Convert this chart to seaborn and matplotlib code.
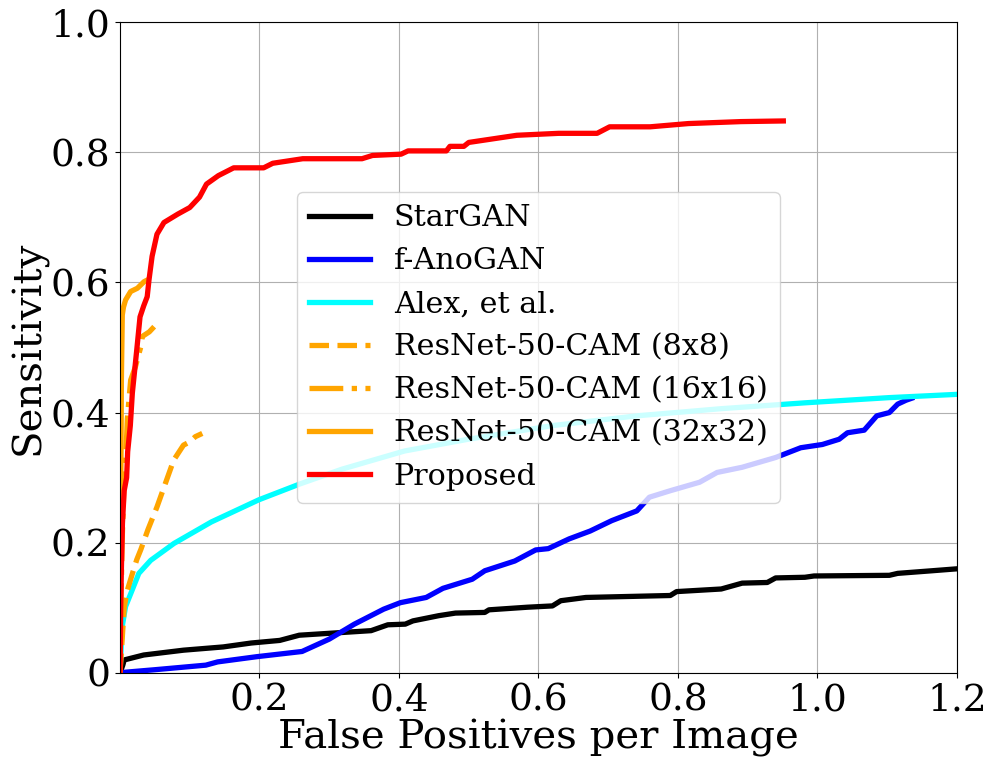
import numpy as np
import pandas as pd
import seaborn as sns
import matplotlib.pyplot as plt

plt.switch_backend('agg')

# FROC curves (false positives per image, sensitivity)
stargan_x = [0, 0.004, 0.006, 0.034, 0.091, 0.148, 0.188, 0.229, 0.257, 0.36, 0.384, 0.409, 0.42,
             0.457, 0.481, 0.523, 0.529, 0.584, 0.62, 0.632, 0.668, 0.789, 0.798, 0.862, 0.892,
             0.928, 0.94, 0.982, 0.995, 1.103, 1.115, 1.164, 1.2]
stargan_y = [0, 0.012, 0.02, 0.0276, 0.035, 0.040, 0.046, 0.05, 0.058, 0.065, 0.074, 0.075, 0.08,
             0.088, 0.092, 0.093, 0.097, 0.101, 0.103, 0.111, 0.116, 0.119, 0.125, 0.129, 0.138,
             0.139, 0.146, 0.147, 0.149, 0.150, 0.153, 0.157, 0.16]

fanogan_x = [0, 0.006, 0.05, 0.123, 0.14, 0.196, 0.261, 0.3, 0.336, 0.378, 0.402, 0.439, 0.463,
             0.505, 0.523, 0.566, 0.596, 0.614, 0.644, 0.674, 0.705, 0.741, 0.759, 0.789, 0.831,
             0.856, 0.892, 0.94, 0.976, 1.007, 1.031, 1.043, 1.067, 1.085, 1.103, 1.115, 1.127, 1.135]
fanogan_y = [0, 0.001, 0.005, 0.012, 0.017, 0.025, 0.033, 0.052, 0.075, 0.098, 0.108, 0.116, 0.13,
             0.144, 0.157, 0.172, 0.189, 0.191, 0.206, 0.218, 0.234, 0.249, 0.27, 0.28, 0.293,
             0.308, 0.316, 0.331, 0.346, 0.351, 0.359, 0.369, 0.373, 0.395, 0.40, 0.413, 0.419, 0.422]

alex_x = [0, 0.003, 0.008, 0.0177, 0.027, 0.044, 0.0774, 0.131, 0.199, 0.257, 0.318, 0.408,
          0.499, 0.62, 0.741, 0.862, 0.982, 1.103, 1.2]
alex_y = [0, 0.07, 0.102, 0.128, 0.153, 0.173, 0.199, 0.232, 0.266, 0.29, 0.313, 0.341,
          0.359, 0.38, 0.395, 0.406, 0.415, 0.423, 0.428]

cam8_x = [0, 0.003, 0.006, 0.01, 0.017, 0.024, 0.03, 0.04, 0.053, 0.058, 0.068, 0.077, 0.091,
          0.1, 0.108, 0.118]
cam8_y = [0, 0.05, 0.10, 0.125, 0.15, 0.174, 0.19, 0.22, 0.255, 0.27, 0.30, 0.327, 0.35,
          0.355, 0.363, 0.368]

cam16_x = [0, 0.001, 0.003, 0.006, 0.0096, 0.0105, 0.0153, 0.022, 0.0296, 0.032, 0.042, 0.049]
cam16_y = [0, 0.08, 0.2, 0.3, 0.365, 0.39, 0.45, 0.47, 0.50, 0.517, 0.524, 0.532]

cam32_x = [0, 0.001, 0.002, 0.0033, 0.005, 0.008, 0.0153, 0.0249, 0.0344, 0.038]
cam32_y = [0, 0.25, 0.45, 0.55, 0.562, 0.573, 0.586, 0.591, 0.601, 0.603]

proposed_x = [0, 0.001, 0.002, 0.0035, 0.006, 0.0095, 0.011, 0.0148, 0.0177, 0.024, 0.0287,
              0.034, 0.039, 0.0416, 0.046, 0.053, 0.063, 0.083, 0.1, 0.114, 0.124, 0.141, 0.163,
              0.206, 0.219, 0.262, 0.347, 0.362, 0.403, 0.413, 0.468, 0.473, 0.493, 0.5, 0.569,
              0.629, 0.684, 0.702, 0.76, 0.815, 0.89, 0.951]
proposed_y = [0, 0.10, 0.16, 0.23, 0.28, 0.30, 0.34, 0.38, 0.43, 0.496, 0.547,
              0.564, 0.578, 0.604, 0.64, 0.674, 0.692, 0.705, 0.715, 0.731, 0.751, 0.764, 0.776,
              0.776, 0.783, 0.79, 0.79, 0.795, 0.797, 0.802, 0.802, 0.809, 0.809, 0.815, 0.826,
              0.829, 0.829, 0.839, 0.839, 0.844, 0.847, 0.848]

x_ticks = [0.2, 0.4, 0.6, 0.8, 1.0, 1.2]
y_ticks = [0, 0.2, 0.4, 0.6, 0.8, 1.0]
y_tick_labels = ['0', '0.2', '0.4', '0.6', '0.8', '1.0']

curves = [
    ('StarGAN', stargan_x, stargan_y, 'black', '-'),
    ('f-AnoGAN', fanogan_x, fanogan_y, 'blue', '-'),
    ('Alex, et al.', alex_x, alex_y, 'cyan', '-'),
    ('ResNet-50-CAM (8x8)', cam8_x, cam8_y, 'orange', '--'),
    ('ResNet-50-CAM (16x16)', cam16_x, cam16_y, 'orange', '-.'),
    ('ResNet-50-CAM (32x32)', cam32_x, cam32_y, 'orange', '-'),
    ('Proposed', proposed_x, proposed_y, 'red', '-'),
]

plt.rcParams['font.family'] = 'DejaVu Serif'

fig, ax = plt.subplots(figsize=(9.95, 7.67), dpi=100)
fig.subplots_adjust(left=0.1206, right=0.9618, bottom=0.1226, top=0.9713)

for label, xs, ys, color, ls in curves:
    df = pd.DataFrame({'fpi': xs, 'sens': ys})
    sns.lineplot(data=df, x='fpi', y='sens', ax=ax, color=color, linestyle=ls,
                 linewidth=3.8, label=label, estimator=None, sort=False)

ax.set_xlim(0, 1.2)
ax.set_ylim(0, 1.0)
ax.set_xticks(x_ticks)
ax.set_xticklabels([f'{t:.1f}' for t in x_ticks])
ax.set_yticks(y_ticks)
ax.set_yticklabels(y_tick_labels)
ax.tick_params(labelsize=27)
ax.grid(True, color='#b0b0b0', linewidth=0.8)
ax.set_axisbelow(True)
ax.set_xlabel('False Positives per Image', fontsize=29, labelpad=0)
ax.set_ylabel('Sensitivity', fontsize=29, labelpad=2)
ax.legend(loc='center', fontsize=21.7)

plt.savefig('out.png', dpi=100)
